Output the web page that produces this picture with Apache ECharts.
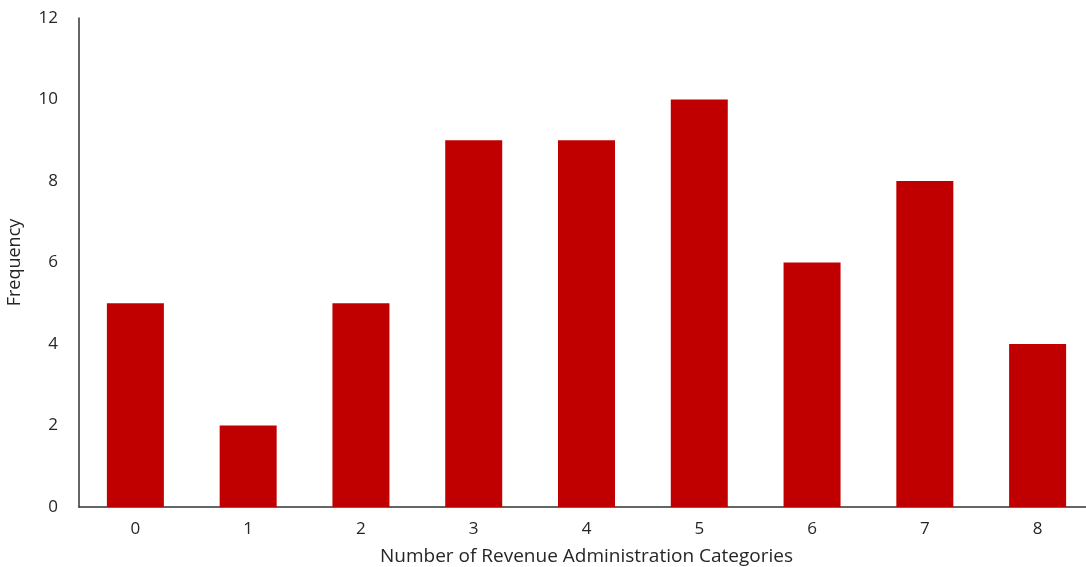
<!DOCTYPE html>
<html>
<head>
<meta charset="utf-8">
<script src="https://cdn.jsdelivr.net/npm/echarts@6/dist/echarts.min.js"></script>
<style>
  html, body { margin: 0; padding: 0; background: #ffffff; }
  #chart { width: 1086px; height: 567px; }
</style>
</head>
<body>
<div id="chart"></div>
<script>
// Count of units by number of revenue administration categories
const categories = ['0', '1', '2', '3', '4', '5', '6', '7', '8'];
const frequency = [5, 2, 5, 9, 9, 10, 6, 8, 4];
const yTicks = { min: 0, max: 12, interval: 2 };

const chart = echarts.init(document.getElementById('chart'), null, { renderer: 'canvas' });
const fontFamily = '"Open Sans", Lato, sans-serif';
const textColor = '#262626';

chart.setOption({
  animation: false,
  backgroundColor: '#ffffff',
  grid: {
    left: 79, top: 18, width: 1015, height: 489,
    containLabel: false,
    outerBoundsMode: 'none'
  },
  xAxis: {
    type: 'category',
    data: categories,
    name: 'Number of Revenue Administration Categories',
    nameLocation: 'middle',
    nameGap: 40,
    nameTextStyle: { fontFamily, fontSize: 19, color: textColor },
    axisLine: { show: true, lineStyle: { color: '#333333', width: 1.5 } },
    axisTick: { show: false },
    axisLabel: { fontFamily, fontSize: 17, color: textColor, margin: 14 },
    splitLine: { show: false }
  },
  yAxis: {
    type: 'value',
    min: yTicks.min,
    max: yTicks.max,
    interval: yTicks.interval,
    name: 'Frequency',
    nameLocation: 'middle',
    nameGap: 55,
    nameRotate: 90,
    nameTextStyle: { fontFamily, fontSize: 18, color: textColor },
    axisLine: { show: true, lineStyle: { color: '#333333', width: 1.5 } },
    axisTick: { show: false },
    axisLabel: { fontFamily, fontSize: 17, color: textColor, margin: 21 },
    splitLine: { show: false }
  },
  series: [{
    type: 'bar',
    data: frequency,
    barWidth: 57,
    itemStyle: { color: '#c00000' }
  }]
});
</script>
</body>
</html>
